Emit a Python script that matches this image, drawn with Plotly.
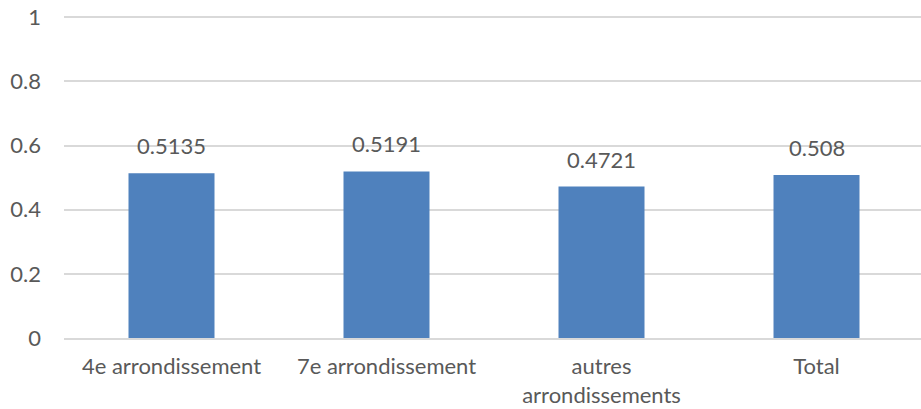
import plotly.graph_objects as go

categories = ["4e arrondissement", "7e arrondissement", "autres<br>arrondissements", "Total"]
values = [0.5135, 0.5191, 0.4721, 0.508]
value_labels = ["0.5135", "0.5191", "0.4721", "0.508"]
y_ticks = [0, 0.2, 0.4, 0.6, 0.8, 1]
y_tick_labels = ["0", "0.2", "0.4", "0.6", "0.8", "1"]

FONT = "Lato, Carlito, Calibri, sans-serif"
TXT = "#595959"
FS = 22

fig = go.Figure(go.Bar(x=categories, y=values, marker=dict(color="#4F81BD", line=dict(width=0)),
                       hoverinfo="skip"))

for c, v, t in zip(categories, values, value_labels):
    fig.add_annotation(x=c, y=v, text=t, showarrow=False, yanchor="bottom", yshift=12,
                       font=dict(family=FONT, size=FS, color=TXT))

fig.update_layout(
    width=921, height=409,
    margin=dict(l=64, r=0, t=14, b=71),
    paper_bgcolor="white", plot_bgcolor="white",
    bargap=0.6, showlegend=False,
    font=dict(family=FONT, size=FS, color=TXT),
    xaxis=dict(range=[-0.5, 3.486], showgrid=False, showline=True, linecolor="#D9D9D9", linewidth=1.5,
               ticks="", ticklabelstandoff=8, automargin=False,
               tickfont=dict(family=FONT, size=FS, color=TXT)),
    yaxis=dict(range=[0, 1.01], tickvals=y_ticks, ticktext=y_tick_labels, showgrid=True,
               gridcolor="#D9D9D9", gridwidth=1.5, zeroline=False, showline=False, ticks="",
               ticklabelstandoff=22, automargin=False, ticklabeloverflow="allow",
               tickfont=dict(family=FONT, size=FS, color=TXT)),
)

fig.write_html("out.html", config={"displayModeBar": False},
               post_script="document.body.style.margin='0';")
